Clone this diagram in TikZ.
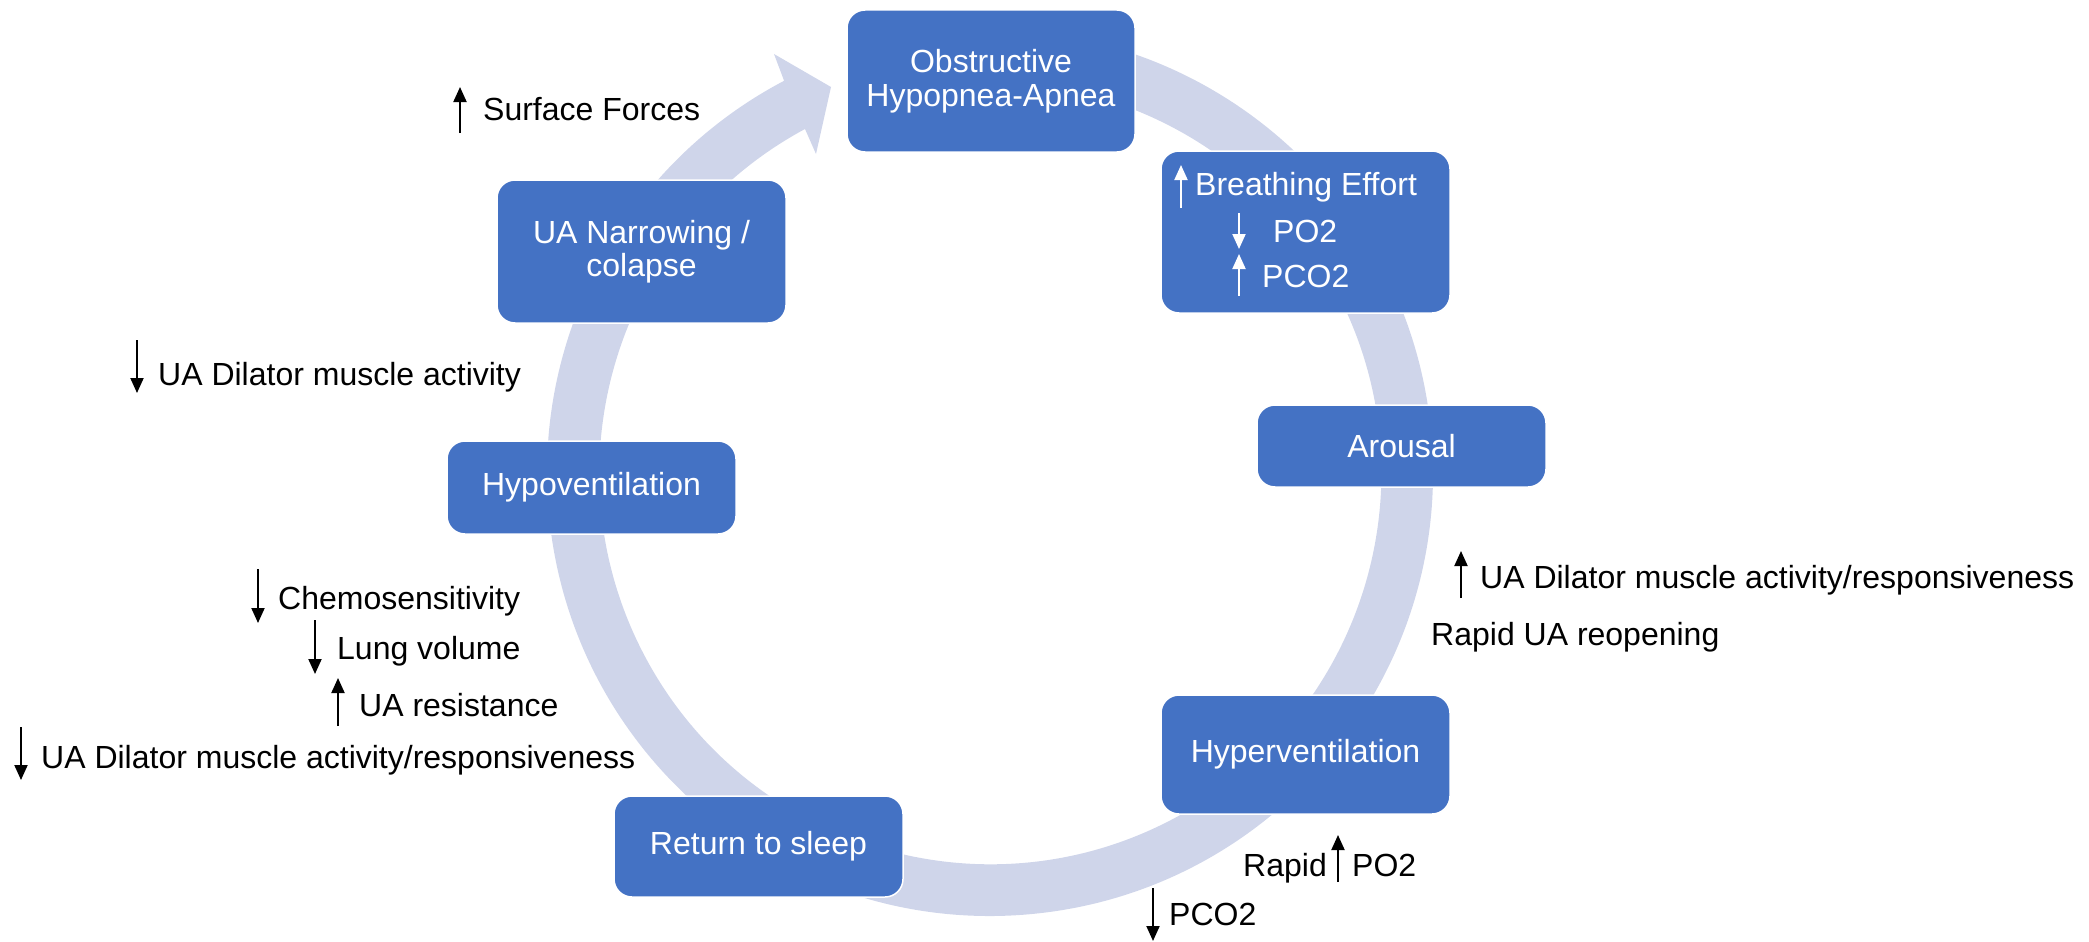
\documentclass[tikz,border=0pt]{standalone}
\usepackage{fontspec}
\setmainfont{Liberation Sans}
\usetikzlibrary{arrows.meta,calc}
\definecolor{boxblue}{HTML}{4472C4}
\definecolor{ringcol}{RGB}{207,213,234}
\begin{document}
\begin{tikzpicture}[x=1pt,y=-1pt,
  every node/.style={font=\fontsize{32}{33.5}\selectfont},
  box/.style={rectangle, rounded corners=18pt, fill=boxblue, draw=white, line width=1.5pt, text=white, align=center, inner sep=0pt},
  lbl/.style={anchor=base west, inner sep=0pt, text=black},
  wlbl/.style={anchor=base west, inner sep=0pt, text=white},
  updown/.style={line width=2pt, -{Triangle[length=15pt,width=13pt]}},
]
\useasboundingbox (0,0) rectangle (2089,942);
\coordinate (c) at (990,473);
% circular arrow ring
\fill[ringcol] ($(c)+(-95:443)$) arc[start angle=-95, end angle=242.3, radius=443]
  -- (774,54) -- (831,87) -- (816,154) -- (805,129)
  arc[start angle=241.7, end angle=-95, radius=391] -- cycle;

% boxes
\node[box, minimum width=288pt, minimum height=142pt] (obs) at (991,81) {Obstructive\\Hypopnea-Apnea};
\node[box, minimum width=289pt, minimum height=162pt] (be) at (1305.5,232) {};
\node[box, minimum width=289pt, minimum height=82pt] (aro) at (1401.5,446) {Arousal};
\node[box, minimum width=289pt, minimum height=119pt] (hyper) at (1305.5,754.5) {Hyperventilation};
\node[box, minimum width=289pt, minimum height=101pt] (ret) at (758.5,846.5) {Return to sleep};
\node[box, minimum width=289pt, minimum height=93pt] (hypo) at (591.5,487.5) {Hypoventilation};
\node[box, minimum width=289pt, minimum height=143pt] (ua) at (641.5,251.5) {UA Narrowing /\\colapse};

% text inside Breathing Effort box
\node[wlbl] (be1) at (1195,195) {Breathing Effort};
\node[wlbl] (be2) at (1273,242) {PO2};
\node[wlbl] (be3) at (1262,287) {PCO2};
\coordinate (bea1s) at (1181,208); \coordinate (bea1e) at (1181,165);
\coordinate (bea2s) at (1239,213); \coordinate (bea2e) at (1239,249);
\coordinate (bea3s) at (1239,296); \coordinate (bea3e) at (1239,254);
\draw[updown, white] (bea1s) -- (bea1e);
\draw[updown, white] (bea2s) -- (bea2e);
\draw[updown, white] (bea3s) -- (bea3e);

% annotations
\node[lbl] (sf) at (483,120) {Surface Forces};
\coordinate (sfa) at (460,133); \coordinate (sfb) at (460,87);
\draw[updown] (sfa) -- (sfb);

\node[lbl] (uad) at (158,385) {UA Dilator muscle activity};
\coordinate (uada) at (137,340); \coordinate (uadb) at (137,393);
\draw[updown] (uada) -- (uadb);

\node[lbl] (chem) at (278,609) {Chemosensitivity};
\coordinate (chema) at (258,569); \coordinate (chemb) at (258,623);
\draw[updown] (chema) -- (chemb);

\node[lbl] (lung) at (337,659) {Lung volume};
\coordinate (lunga) at (315,620); \coordinate (lungb) at (315,674);
\draw[updown] (lunga) -- (lungb);

\node[lbl] (res) at (359,716) {UA resistance};
\coordinate (resa) at (338,726); \coordinate (resb) at (338,678);
\draw[updown] (resa) -- (resb);

\node[lbl] (uadl) at (41,768) {UA Dilator muscle activity/responsiveness};
\coordinate (uadla) at (21,727); \coordinate (uadlb) at (21,780);
\draw[updown] (uadla) -- (uadlb);

\node[lbl] (uadr) at (1480,588) {UA Dilator muscle activity/responsiveness};
\coordinate (uadra) at (1461,598); \coordinate (uadrb) at (1461,551);
\draw[updown] (uadra) -- (uadrb);

\node[lbl] (reop) at (1431,645) {Rapid UA reopening};

\node[lbl] (rapid) at (1243,876) {Rapid};
\node[lbl] (po2) at (1352,876) {PO2};
\coordinate (po2a) at (1338,882); \coordinate (po2b) at (1338,835);
\draw[updown] (po2a) -- (po2b);

\node[lbl] (pco2) at (1169,925) {PCO2};
\coordinate (pco2a) at (1153,888); \coordinate (pco2b) at (1153,941);
\draw[updown] (pco2a) -- (pco2b);
\end{tikzpicture}
\end{document}
